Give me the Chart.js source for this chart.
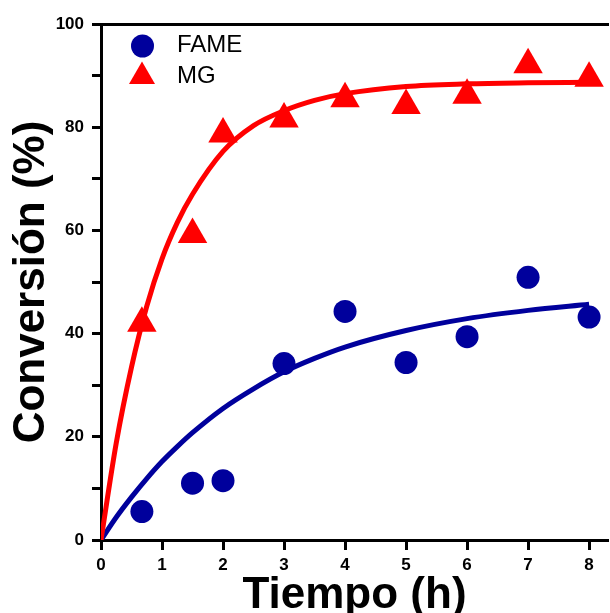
<!DOCTYPE html>
<html>
<head>
<meta charset="utf-8">
<script src="https://cdn.jsdelivr.net/npm/chart.js@4/dist/chart.umd.min.js"></script>
<style>
  body { margin: 0; background: #fff; }
  #wrap { width: 610px; height: 613px; }
</style>
</head>
<body>
<div id="wrap"><canvas id="chart_1" width="610" height="613"></canvas></div>
<script>
// measured points (time in h, conversion in %)
const tiempo = [0.67, 1.5, 2, 3, 4, 5, 6, 7, 8];
const fame = [5.5, 11.0, 11.5, 34.2, 44.3, 34.4, 39.4, 50.9, 43.2];
const mg = [42.0, 59.2, 78.7, 81.6, 85.5, 84.2, 86.2, 92.1, 89.5];

// fitted curves
const ajusteT = [0, 0.25, 0.5, 0.75, 1, 1.25, 1.5, 2, 2.5, 3, 3.5, 4, 5, 6, 7, 8];
const ajusteMG = [0, 18.8, 33.5, 45.3, 54.5, 61.5, 67, 75.3, 80.3, 83.2, 85.2, 86.5, 87.9, 88.4, 88.6, 88.7];
const ajusteFAME = [0, 4.4, 8.3, 11.9, 15.2, 18.1, 20.8, 25.5, 29.3, 32.6, 35.2, 37.4, 40.6, 42.9, 44.5, 45.7];

// axis ticks
const xTicks = [0, 1, 2, 3, 4, 5, 6, 7, 8];
const yLabels = [0, 20, 40, 60, 80, 100];

const FONT = "'Liberation Sans', Arial, sans-serif";
const BLUE = '#00009C', RED = '#FF0000';

const pts = (xs, ys) => xs.map((x, i) => ({x: x, y: ys[i]}));
const noPad = s => { s.paddingLeft = 0; s.paddingRight = 0; s.paddingTop = 0; s.paddingBottom = 0; };

// legend drawn inside the plot, top left
const legendInside = {
    id: 'legendInside',
    afterDatasetsDraw(chart) {
        const ctx = chart.ctx;
        const items = [
            {text: 'FAME', style: 'circle', r: 11.5, color: BLUE, x: 142.5, y: 46},
            {text: 'MG', style: 'triangle', r: 15, color: RED, x: 142, y: 76.5}
        ];
        ctx.save();
        items.forEach(it => {
            ctx.fillStyle = it.color;
            Chart.helpers.drawPoint(ctx, {pointStyle: it.style, radius: it.r, borderWidth: 0}, it.x, it.y);
            ctx.fillStyle = '#000';
            ctx.font = '24px ' + FONT;
            ctx.textBaseline = 'middle';
            ctx.fillText(it.text, 177, it.y - 0.5);
        });
        ctx.restore();
    }
};

const ctx = document.getElementById('chart_1').getContext('2d');
const chart = new Chart(ctx, {
    type: 'scatter',
    data: {
        datasets: [
            {
                label: 'FAME',
                data: pts(tiempo, fame),
                pointStyle: 'circle',
                pointRadius: 11.5,
                backgroundColor: BLUE,
                borderWidth: 0,
                order: 0
            },
            {
                label: 'MG',
                data: pts(tiempo, mg),
                pointStyle: 'triangle',
                pointRadius: 17,
                backgroundColor: RED,
                borderWidth: 0,
                order: 0
            },
            {
                label: 'ajuste MG',
                data: pts(ajusteT, ajusteMG),
                showLine: true,
                pointRadius: 0,
                borderColor: RED,
                borderWidth: 5,
                cubicInterpolationMode: 'monotone',
                order: 1
            },
            {
                label: 'ajuste FAME',
                data: pts(ajusteT, ajusteFAME),
                showLine: true,
                pointRadius: 0,
                borderColor: BLUE,
                borderWidth: 5,
                cubicInterpolationMode: 'monotone',
                order: 1
            }
        ]
    },
    options: {
        responsive: false,
        animation: false,
        devicePixelRatio: 1,
        events: [],
        layout: {autoPadding: false, padding: {left: 0, top: 24, right: 2, bottom: 0}},
        plugins: {
            legend: {display: false},
            tooltip: {enabled: false}
        },
        scales: {
            x: {
                type: 'linear',
                position: 'bottom',
                min: 0,
                max: 8.31,
                afterBuildTicks: s => { s.ticks = xTicks.map(v => ({value: v})); },
                afterFit: s => { s.height = 73; noPad(s); },
                grid: {drawOnChartArea: false, tickLength: 10, tickWidth: 3, tickColor: '#000'},
                border: {color: '#000', width: 3},
                ticks: {color: '#000', padding: 5, autoSkip: false, maxRotation: 0,
                        font: {family: FONT, size: 17, weight: 'bold'}},
                title: {display: true, text: 'Tiempo (h)', color: '#000', padding: 0,
                        font: {family: FONT, size: 44, weight: 'bold', lineHeight: 0.77}}
            },
            x2: {
                type: 'linear',
                position: 'top',
                min: 0,
                max: 8.31,
                afterFit: s => { s.height = 0; noPad(s); },
                grid: {display: false},
                border: {color: '#000', width: 3},
                ticks: {display: false}
            },
            y: {
                type: 'linear',
                min: 0,
                max: 100,
                afterFit: s => { s.width = 101; noPad(s); },
                grid: {drawOnChartArea: false, tickLength: 9, tickWidth: 3, tickColor: '#000'},
                border: {color: '#000', width: 3},
                ticks: {
                    stepSize: 10,
                    color: '#000',
                    padding: 8,
                    font: {family: FONT, size: 17, weight: 'bold'},
                    callback: v => yLabels.includes(v) ? String(v) : ''
                },
                title: {display: true, text: 'Conversión (%)', color: '#000', padding: {top: 10, bottom: 0},
                        font: {family: FONT, size: 44, weight: 'bold', lineHeight: 1.0}}
            }
        }
    },
    plugins: [legendInside]
});
</script>
</body>
</html>
